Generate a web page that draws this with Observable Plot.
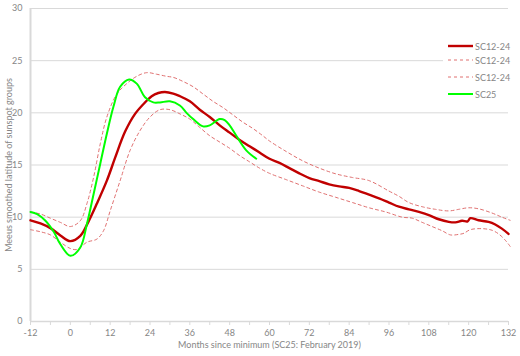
<!DOCTYPE html>
<html>
<head>
<meta charset="utf-8">
<script src="https://cdn.jsdelivr.net/npm/d3@7"></script>
<script src="https://cdn.jsdelivr.net/npm/@observablehq/plot@0.6"></script>
<style>
  html, body { margin: 0; padding: 0; background: #fff; }
  #wrap { position: relative; width: 520px; height: 356px; font-family: Lato, "Open Sans", sans-serif; }
  #legend { position: absolute; left: 443px; top: 36px; width: 72px; height: 67px; background: #fff; font-size: 9px; color: #868686; }
  .item { position: absolute; left: 5px; height: 12px; display: flex; align-items: center; }
  .item svg { margin-right: 2px; }
</style>
</head>
<body>
<div id="wrap"><div id="legend"></div></div>
<script>
// SC12-24 mean
const meanMonths = [-12,-9,-6,-3,0,3,5.5,8,11,13.5,16.5,19.5,22.5,24.5,26.5,28.5,31,33,36,39,42,45,48,51,54,57,60,63,66,69,72,75,78,81,84,87,90,93,96,99,102,105,108,111,114,116,118,119.7,120.5,123,126,128,130,132];
const meanValues = [9.7,9.4,8.95,8.25,7.7,8.2,9.6,11.3,13.5,15.7,18.2,19.9,21.0,21.6,21.9,22.0,21.85,21.6,21.1,20.3,19.6,18.8,18.1,17.4,16.8,16.2,15.6,15.2,14.7,14.2,13.75,13.45,13.15,12.95,12.8,12.5,12.15,11.8,11.4,11.0,10.75,10.5,10.2,9.8,9.55,9.5,9.65,9.6,9.9,9.7,9.55,9.3,8.9,8.4];
// SC12-24 upper envelope
const upperMonths = [-12,-9,-6,-3,0,3,5,7,9,11,14,17,20,23,26,29,31,34,37,40,43,46,49,52,55,58,60,65,70,75,80,85,90,96,99,102,106,110,114,117,120,123,127,130,132.5];
const upperValues = [10.5,10.3,9.9,9.5,9.1,9.66,11.3,13.8,17.0,19.6,21.8,22.8,23.5,23.85,23.7,23.5,23.4,23.0,22.5,21.8,21.1,20.5,19.8,19.1,18.5,17.8,17.3,16.3,15.4,14.7,14.15,13.8,13.5,12.5,12.0,11.4,11.0,10.75,10.6,10.75,10.9,10.8,10.4,10.0,9.7];
// SC12-24 lower envelope
const lowerMonths = [-12,-9,-6,-3,0,2,5,8,10,12,15,18,21,24,27,30,33,36,39,42,45,48,51,54,57,60,65,70,75,80,85,90,95,100,103,106,109,112,114.5,117,118.5,120.5,124,127,129,131,132.5];
const lowerValues = [8.8,8.6,8.3,7.6,7.0,6.9,7.6,7.9,8.7,10.6,13.5,16.4,18.3,19.6,20.3,20.3,19.9,19.4,18.6,17.8,17.2,16.6,15.9,15.3,14.7,14.2,13.6,13.0,12.4,11.9,11.4,10.9,10.5,10.0,9.9,9.5,9.1,8.7,8.3,8.35,8.45,8.8,8.9,8.75,8.4,7.8,7.2];
// SC25
const sc25Months = [-12,-10,-7.5,-5,-3,0,3,5,7,9,11,13,15,17.7,20,22.5,25,27,30,33,35,37,40,42,45,46.5,48,50,53,56];
const sc25Values = [10.5,10.3,9.66,8.6,7.4,6.3,7.1,9.35,12.2,15.1,18.0,20.6,22.5,23.2,22.8,21.5,21.0,21.0,21.1,20.7,20.0,19.4,18.7,18.8,19.4,19.3,18.8,17.8,16.4,15.6];

const xTicks = d3.range(-12, 133, 6);
const yTicks = [0,5,10,15,20,25,30];
const seriesNames = ["SC12-24","SC12-24","SC12-24","SC25"];

const toRows = (ms, vs) => ms.map((m, i) => ({m, v: vs[i]}));
const mean = toRows(meanMonths, meanValues);
const upper = toRows(upperMonths, upperValues);
const lower = toRows(lowerMonths, lowerValues);
const sc25 = toRows(sc25Months, sc25Values);

const MEAN = "#c00000", ENV = "#e07070", GREEN = "#00ff00", GRID = "#d9d9d9", TXT = "#868686";
const DASH = "3,3";

const chart = Plot.plot({
  width: 520,
  height: 356,
  marginLeft: 30,
  marginRight: 12,
  marginTop: 8,
  marginBottom: 35,
  style: {fontFamily: "Lato, 'Open Sans', sans-serif", fontSize: "9px", color: TXT, background: "#fff"},
  x: {domain: [-12, 132]},
  y: {domain: [0, 30]},
  marks: [
    Plot.gridY(yTicks.slice(1), {stroke: GRID, strokeOpacity: 1, strokeWidth: 1}),
    Plot.axisY(yTicks, {tickSize: 0, tickPadding: 8, fill: TXT, label: "Meeus smoothed latitude of sunspot groups", labelAnchor: "center", labelArrow: "none", labelOffset: 25}),
    Plot.axisX(xTicks, {tickSize: 4, stroke: GRID, strokeOpacity: 1, tickPadding: 4, fill: TXT,
      tickFormat: d => d % 12 === 0 ? d : "",
      label: "Months since minimum (SC25: February 2019)", labelAnchor: "center", labelArrow: "none", labelOffset: 26}),
    Plot.ruleY([0], {stroke: GRID, strokeWidth: 1.5}),
    Plot.ruleX([-12], {stroke: GRID, strokeWidth: 2}),
    Plot.line(upper, {x: "m", y: "v", stroke: ENV, strokeWidth: 1, strokeDasharray: DASH, curve: "catmull-rom"}),
    Plot.line(lower, {x: "m", y: "v", stroke: ENV, strokeWidth: 1, strokeDasharray: DASH, curve: "catmull-rom"}),
    Plot.line(mean, {x: "m", y: "v", stroke: MEAN, strokeWidth: 2.4, curve: "catmull-rom"}),
    Plot.line(sc25, {x: "m", y: "v", stroke: GREEN, strokeWidth: 2, curve: "catmull-rom"})
  ]
});
document.getElementById("wrap").insertBefore(chart, document.getElementById("legend"));

// legend
const legendStyles = [
  {stroke: MEAN, width: 2.4, dash: null},
  {stroke: ENV, width: 1, dash: DASH},
  {stroke: ENV, width: 1, dash: DASH},
  {stroke: GREEN, width: 2, dash: null}
];
const legendTops = [4, 18, 35, 52];
const legend = d3.select("#legend");
seriesNames.forEach((name, i) => {
  const s = legendStyles[i];
  const item = legend.append("div").attr("class", "item").style("top", legendTops[i] + "px");
  const svg = item.append("svg").attr("width", 25).attr("height", 6);
  svg.append("line").attr("x1", 0).attr("x2", 25).attr("y1", 3).attr("y2", 3)
    .attr("stroke", s.stroke).attr("stroke-width", s.width).attr("stroke-dasharray", s.dash);
  item.append("span").text(name);
});
</script>
</body>
</html>
